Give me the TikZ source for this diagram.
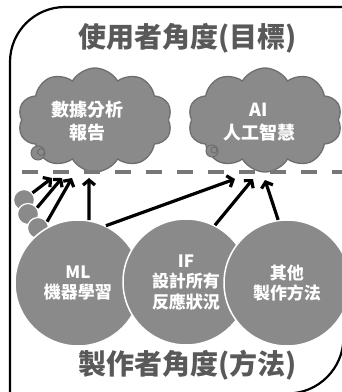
\documentclass[tikz,border=0pt]{standalone}
\usepackage{fontspec}
\newfontfamily\cjk{Noto Sans CJK TC}
\usetikzlibrary{shapes.symbols,arrows.meta}
\definecolor{shapegray}{HTML}{8A8A8A}
\definecolor{titlegray}{HTML}{595959}
\definecolor{cloudedge}{HTML}{6E6E6E}
\definecolor{dashgray}{HTML}{777777}
\begin{document}
\begin{tikzpicture}[x=1pt,y=-1pt,
  frame/.style={draw=black, line width=2.2pt},
  title/.style={font=\cjk\bfseries\fontsize{28}{30}\selectfont, text=titlegray, inner sep=0pt},
  cloudbox/.style={cloud, cloud puffs=10, cloud puff arc=120, cloud ignores aspect, minimum width=154pt, minimum height=104pt, fill=shapegray, draw=cloudedge, line width=1.3pt, inner sep=0pt},
  cloudtext/.style={text=white, align=center, inner sep=0pt, font=\cjk\bfseries\fontsize{18}{23}\selectfont},
  tailball/.style={circle, fill=shapegray, draw=cloudedge, line width=1pt, inner sep=0pt},
  bigball/.style={circle, fill=shapegray, draw=white, line width=1.5pt, minimum size=126pt, inner sep=0pt, text=white, align=center, font=\cjk\bfseries\fontsize{17}{20.5}\selectfont},
  smallball/.style={circle, fill=shapegray, draw=white, line width=1.2pt, minimum size=21pt, inner sep=0pt},
  divider/.style={draw=dashgray, line width=4pt, dash pattern=on 16pt off 15pt},
  link/.style={draw=black, line width=3.2pt, -{Straight Barb[length=5pt,width=12pt]}}
]
\useasboundingbox (0,0) rectangle (342,392);
% outer frame
\draw[frame] (10,393.5) -- (10,62) arc[start angle=180,end angle=270,radius=55] -- (343.5,7) -- (343.5,337.5) arc[start angle=0,end angle=90,radius=56] -- cycle;
% titles
\node[title] (usertitle) at (188,38) {使用者角度(目標)};
\node[title] (makertitle) at (188,365) {製作者角度(方法)};
% clouds
\node[cloudbox] (reportcloud) at (95,120) {};
\node[cloudtext] (reporttext) at (88,121) {數據分析\\報告};
\node[tailball, minimum size=14pt] (reporttail) at (38,153) {};
\node[tailball, minimum size=7pt] (reporttailin) at (41,152) {};
\node[cloudbox] (aicloud) at (265,120) {};
\node[cloudtext] (aitext) at (259,122) {AI\\人工智慧};
\node[tailball, minimum size=12pt] (aitail) at (212,151) {};
\node[tailball, minimum size=6pt] (aitailin) at (214,150) {};
% divider
\coordinate (dashL) at (22,172);
\coordinate (dashR) at (342,172);
\draw[divider] (dashL) -- (dashR);
% small balls
\node[smallball] (sb1) at (24,200) {};
\node[smallball] (sb2) at (28,214) {};
\node[smallball] (sb3) at (38,228) {};
% big balls
\node[bigball] (ml) at (78,283) {ML\\機器學習};
\node[bigball] (ifc) at (186,282) {IF\\設計所有\\反應狀況};
\node[bigball] (other) at (287,283) {其他\\製作方法};
% arrow targets
\coordinate (t1) at (52,178);
\coordinate (t2) at (62,178);
\coordinate (t3) at (72,178);
\coordinate (t4) at (89,178);
\coordinate (t5) at (235,179);
\coordinate (t6) at (253,179);
\coordinate (t7) at (265,180);
\draw[link] (sb1.40) -- (t1);
\draw[link] (sb2.35) -- (t2);
\draw[link] (sb3.35) -- (t3);
\draw[link] (ml.80) -- (t4);
\draw[link] (ml.64) -- (t5);
\draw[link] (ifc.63) -- (t6);
\draw[link] (other.98) -- (t7);
\end{tikzpicture}
\end{document}
